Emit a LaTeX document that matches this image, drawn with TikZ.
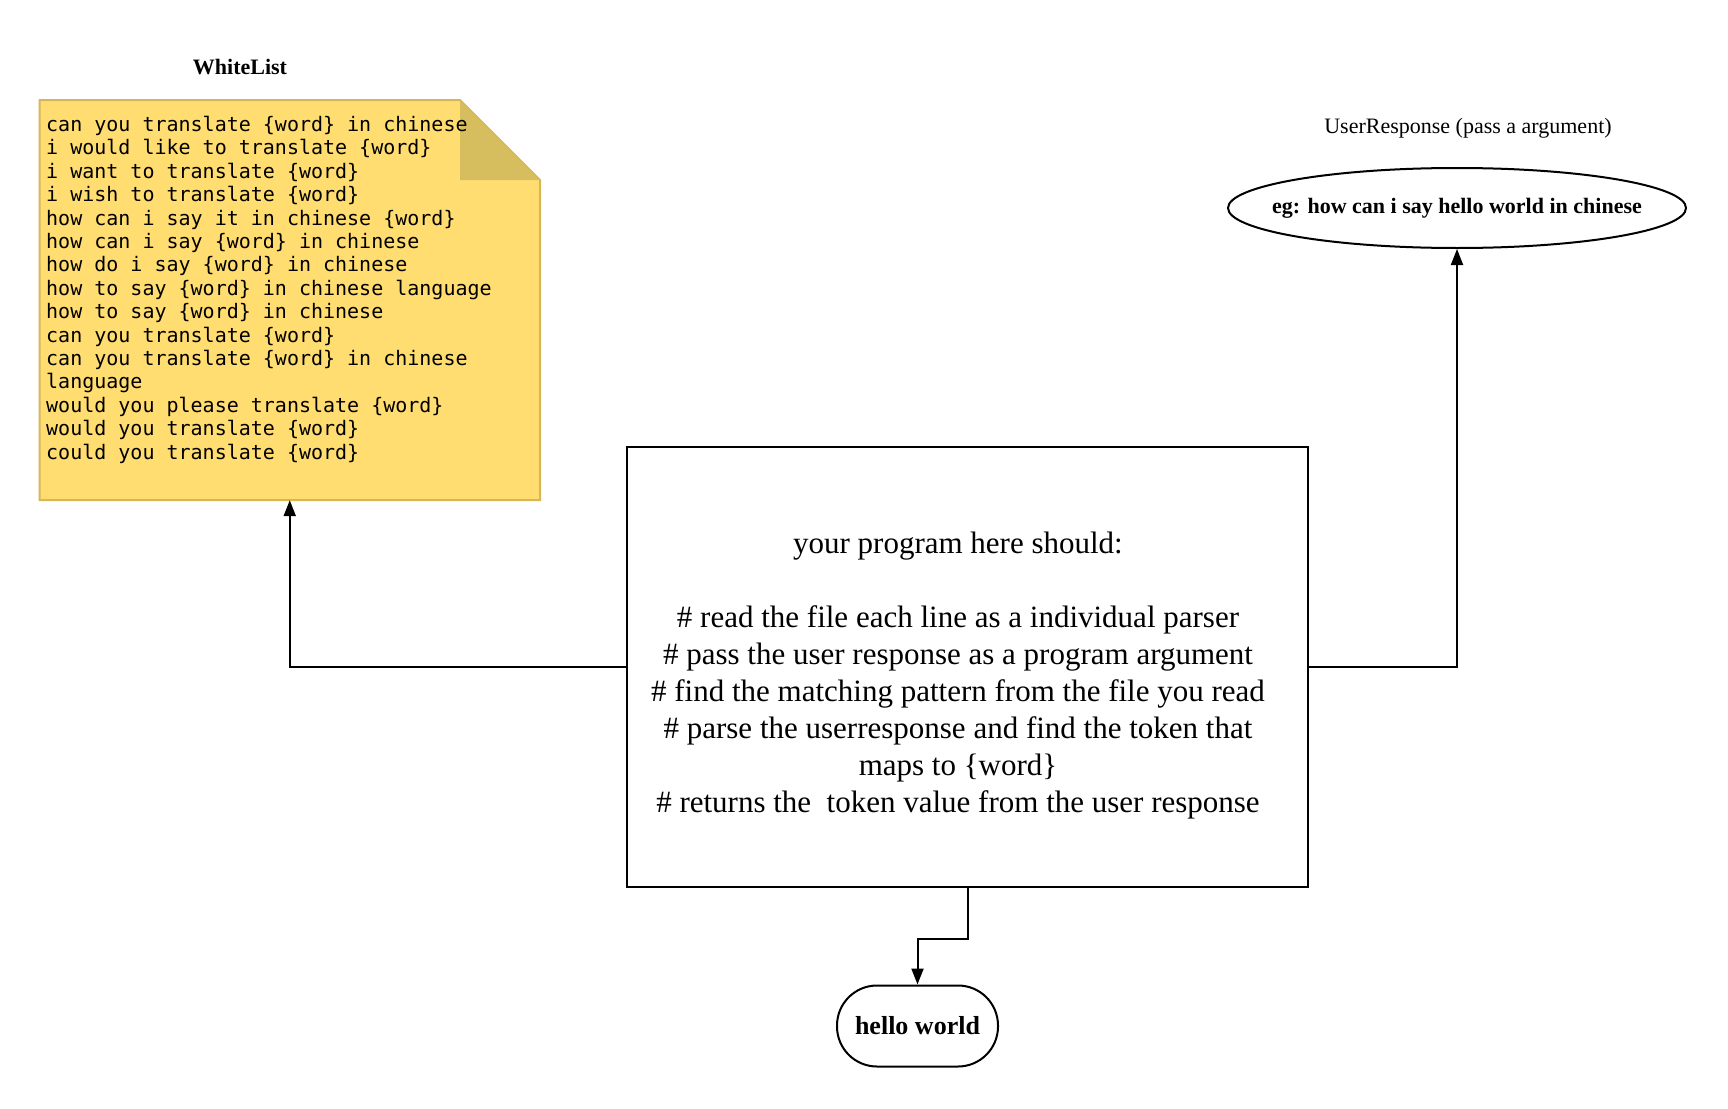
\documentclass[tikz,border=0pt]{standalone}
\usepackage{fontspec}
\setmainfont{Liberation Serif}
\setmonofont{DejaVu Sans Mono}
\usetikzlibrary{shapes.geometric,arrows.meta}
\definecolor{notefill}{HTML}{FFDD70}
\definecolor{notefold}{HTML}{D6BE5E}
\definecolor{noteline}{HTML}{D6B656}
\newcommand\mymonoset{\ttfamily\fontsize{20}{23.4}\selectfont}
\tikzset{
  conn/.style={line width=2pt,-{Triangle[length=16pt,width=12pt]}},
  box/.style={draw,line width=2pt,inner sep=0pt},
  lbl/.style={inner sep=0pt}
}
\begin{document}
\begin{tikzpicture}[x=1pt,y=-1pt]
\useasboundingbox (0,0) rectangle (1728,1108);
% note
\node[minimum width=500.5pt,minimum height=400pt,inner sep=0pt] (note) at (289.75,300) {};
\fill[notefill,draw=noteline,line width=2pt] (39.5,100) -- (460,100) -- (540,180) -- (540,500) -- (39.5,500) -- cycle;
\fill[notefold] (460,101.5) -- (460,180) -- (538.5,180) -- cycle;
\node[lbl,anchor=north west] (notetext) at (46,115) {\mymonoset\begin{tabular}{@{}l@{}}
can you translate \{word\} in chinese\\
i would like to translate \{word\}\\
i want to translate \{word\}\\
i wish to translate \{word\}\\
how can i say it in chinese \{word\}\\
how can i say \{word\} in chinese\\
how do i say \{word\} in chinese\\
how to say \{word\} in chinese language\\
how to say \{word\} in chinese\\
can you translate \{word\}\\
can you translate \{word\} in chinese\\
language\\
would you please translate \{word\}\\
would you translate \{word\}\\
could you translate \{word\}
\end{tabular}};
\node[lbl,font=\bfseries\fontsize{22}{26}\selectfont] (wl) at (240,67) {WhiteList};
% user response
\node[lbl,font=\fontsize{22}{26}\selectfont] (ur) at (1468,128) {UserResponse (pass a argument)};
\node[box,ellipse,minimum width=458pt,minimum height=80pt] (ell) at (1457,208) {};
\node[lbl,font=\bfseries\fontsize{22}{26}\selectfont] (elltext) at (ell.center) {eg: how can i say hello world in chinese};
% main box
\node[box,minimum width=681pt,minimum height=440pt] (main) at (967.5,667) {};
\node[lbl,align=center,font=\fontsize{31}{37}\selectfont] (maintext) at (958,675.5) {your program here should:\\[37pt]
\# read the file each line as a individual parser\\
\# pass the user response as a program argument\\
\# find the matching pattern from the file you read\\
\# parse the userresponse and find the token that\\
maps to \{word\}\\
\# returns the\ \ token value from the user response};
% hello world
\node[box,rounded corners=40pt,minimum width=161pt,minimum height=81pt,font=\bfseries\fontsize{26}{30}\selectfont] (hw) at (917.5,1026) {hello world};
% connectors
\draw[conn] (main.west) -| (note.south);
\draw[conn] (main.east) -| (ell.south);
\draw[conn] (main.south) -- ++(0,51) -| (hw.north);
\end{tikzpicture}
\end{document}
